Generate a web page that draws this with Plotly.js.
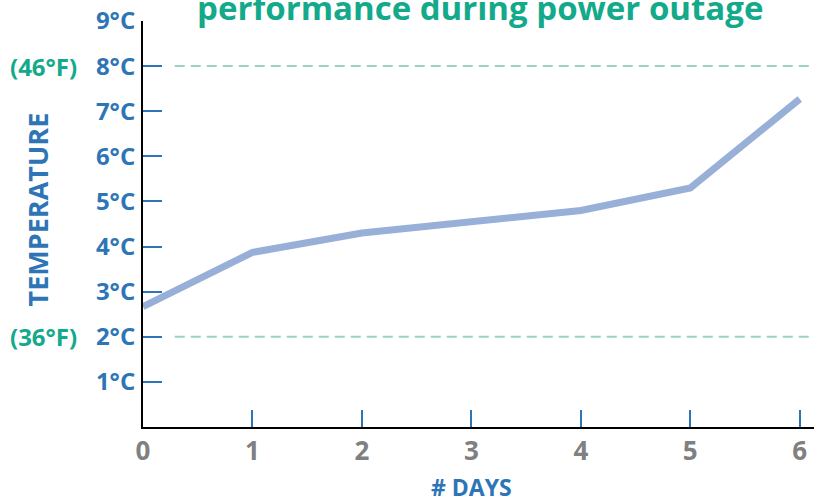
<!DOCTYPE html>
<html>
<head>
<meta charset="utf-8">
<script src="https://cdn.plot.ly/plotly-3.0.1.min.js"></script>
<style>
  html, body { margin: 0; padding: 0; background: #ffffff; }
  #chart { width: 814px; height: 500px; }
</style>
</head>
<body>
<div id="chart"></div>
<script>
// ---- data ----
const days = [0, 1, 2, 3, 4, 5, 6];
const temperatureC = [2.67, 3.87, 4.3, 4.55, 4.8, 5.3, 7.27];
const yTickValues = [1, 2, 3, 4, 5, 6, 7, 8, 9];
const yTickLabels = ["1°C", "2°C", "3°C", "4°C", "5°C", "6°C", "7°C", "8°C", "9°C"];
const xTickValues = [0, 1, 2, 3, 4, 5, 6];
const xTickLabels = ["0", "1", "2", "3", "4", "5", "6"];
const thresholdC = [8, 2];
const thresholdLabels = ["(46°F)", "(36°F)"];
const chartTitle = "performance during power outage";
const xTitle = "# DAYS";
const yTitle = "TEMPERATURE";

const blue = "#2e75b6";
const teal = "#13a98b";
const FONT = "Open Sans, Lato, sans-serif";

const trace = {
  x: days,
  y: temperatureC,
  type: "scatter",
  mode: "lines",
  line: { color: "#98afd8", width: 7 },
  hoverinfo: "skip",
  showlegend: false
};

const shapes = thresholdC.map(v => ({
  type: "line", xref: "x", yref: "y",
  x0: 0.29, x1: 6.2, y0: v, y1: v,
  line: { color: "#9bd3c2", width: 2, dash: "10px,6px" },
  layer: "below"
}));

const annotations = thresholdC.map((v, i) => ({
  xref: "paper", yref: "y",
  x: -0.095, y: v,
  xanchor: "right", yanchor: "middle",
  text: "<b>" + thresholdLabels[i] + "</b>",
  showarrow: false,
  font: { family: FONT, size: 24, color: teal }
}));

annotations.push({
  xref: "paper", yref: "paper",
  x: -0.157, y: 0.535,
  xanchor: "center", yanchor: "middle",
  textangle: -90,
  text: "<b>" + yTitle + "</b>",
  showarrow: false,
  font: { family: FONT, size: 27, color: blue }
});

annotations.push({
  xref: "x", yref: "paper",
  x: 3, y: -0.149,
  xanchor: "center", yanchor: "middle",
  text: "<b>" + xTitle + "</b>",
  showarrow: false,
  font: { family: FONT, size: 23, color: blue }
});

const layout = {
  width: 814,
  height: 500,
  margin: { l: 143, r: 0, t: 21, b: 73, pad: 0 },
  paper_bgcolor: "#ffffff",
  plot_bgcolor: "#ffffff",
  title: {
    text: "<b>" + chartTitle + "</b>",
    x: 0.59, xanchor: "center", xref: "container",
    y: 0.984, yanchor: "middle", yref: "container",
    font: { family: FONT, size: 33, color: teal }
  },
  xaxis: {
    range: [0, 6.13],
    tickmode: "array",
    tickvals: xTickValues,
    ticktext: xTickLabels,
    ticks: "inside",
    ticklen: 17,
    tickwidth: 2,
    tickcolor: blue,
    showline: true,
    linecolor: "#000000",
    linewidth: 2,
    showgrid: false,
    zeroline: false,
    tickfont: { family: FONT, size: 26, color: "#808080", weight: "bold" },
    ticklabelstandoff: 0,
    fixedrange: true
  },
  yaxis: {
    range: [0, 9],
    tickmode: "array",
    tickvals: yTickValues,
    ticktext: yTickLabels,
    ticks: "inside",
    ticklen: 19,
    tickwidth: 2,
    tickcolor: blue,
    showline: true,
    linecolor: "#000000",
    linewidth: 2,
    showgrid: false,
    zeroline: false,
    tickfont: { family: FONT, size: 24, color: blue, weight: "bold" },
    ticklabelstandoff: 1,
    fixedrange: true
  },
  shapes: shapes,
  annotations: annotations,
  showlegend: false
};

Plotly.newPlot("chart", [trace], layout, { displayModeBar: false, staticPlot: true });
</script>
</body>
</html>
